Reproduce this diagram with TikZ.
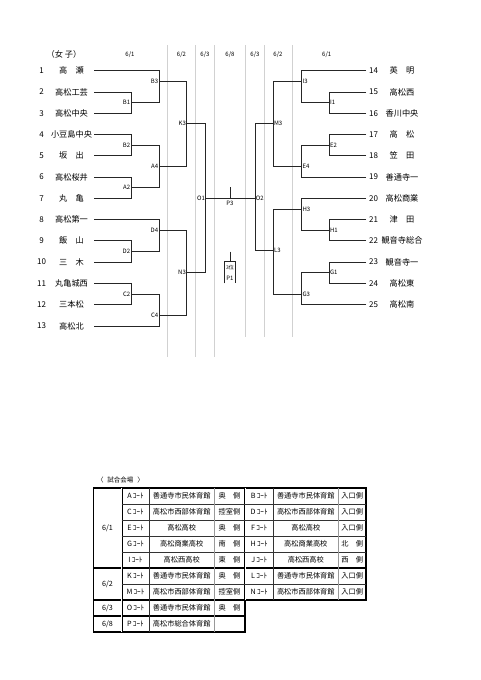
\documentclass[tikz,border=0pt]{standalone}
\usepackage{fontspec}
\usepackage{graphicx}
\newfontfamily\jp{Noto Sans CJK JP}
\begin{document}
\begin{tikzpicture}[x=1pt,y=-1pt,
  every node/.style={inner sep=0pt, font=\jp},
  team/.style={font=\jp\fontsize{8.2}{9}\selectfont},
  num/.style={font=\jp\fontsize{8}{9}\selectfont},
  mlabl/.style={font=\jp\fontsize{6}{6.5}\selectfont, inner sep=0.6pt, anchor=east},
  mlabr/.style={font=\jp\fontsize{6}{6.5}\selectfont, inner sep=0.6pt, anchor=west},
  hdr/.style={font=\jp\fontsize{6}{7}\selectfont},
  br/.style={line width=0.8pt, black!85},
  sep/.style={line width=0.9pt, black!18},
  tb/.style={line width=1.4pt, black},
  tdbl/.style={double, double distance=0.9pt, line width=0.6pt, black},
  tn/.style={line width=0.5pt, black!80},
  tg/.style={line width=0.5pt, black!40},
  cell/.style={font=\jp\fontsize{7.2}{8}\selectfont},
]
\useasboundingbox (0,0) rectangle (481,680);
\fill[white] (0,0) rectangle (481,680);

% column separators
\foreach \x/\yb in {167.5/357, 195.5/357, 214.8/357, 245.5/337, 264.5/337, 292/337}
  \draw[sep] (\x,45) -- (\x,\yb);

% headers
\node[team] (title) at (64,54) {（女 子）};
\node[hdr] (h1) at (130,55) {6/1};
\node[hdr] (h2) at (181.5,55) {6/2};
\node[hdr] (h3) at (205,55) {6/3};
\node[hdr] (h4) at (230,55) {6/8};
\node[hdr] (h5) at (255,55) {6/3};
\node[hdr] (h6) at (278,55) {6/2};
\node[hdr] (h7) at (326.7,55) {6/1};

% teams left
\foreach \i/\nm in {1/高　瀬,2/高松工芸,3/高松中央,4/小豆島中央,5/坂　出,6/高松桜井,7/丸　亀,8/高松第一,9/飯　山,10/三　木,11/丸亀城西,12/三本松,13/高松北}{
  \pgfmathsetmacro\yy{70.7+(\i-1)*21.27}
  \node[num] (n\i) at (41.5,\yy) {\i};
  \node[team] (t\i) at (71.5,\yy) {\nm};
  \coordinate (s\i) at (94,\yy);
}
% teams right
\foreach \i/\nm in {14/英　明,15/高松西,16/香川中央,17/高　松,18/笠　田,19/善通寺一,20/高松商業,21/津　田,22/観音寺総合,23/観音寺一,24/高松東,25/高松南}{
  \pgfmathsetmacro\yy{70.7+(\i-14)*21.27}
  \node[num] (n\i) at (373.5,\yy) {\i};
  \node[team] (t\i) at (402,\yy) {\nm};
  \coordinate (s\i) at (366,\yy);
}

% match points left
\coordinate (B1) at (131,102.6);
\coordinate (B3) at (159,81);
\coordinate (B2) at (131,145.1);
\coordinate (A2) at (131,187.7);
\coordinate (A4) at (159,166.4);
\coordinate (K3) at (186.7,123);
\coordinate (D2) at (131,251.5);
\coordinate (D4) at (159,230);
\coordinate (C2) at (131,294);
\coordinate (C4) at (159,315.3);
\coordinate (N3) at (186.7,272.7);
\coordinate (O1) at (205.7,198.3);
% match points right
\coordinate (I1) at (329.3,102.6);
\coordinate (I3) at (301.7,81);
\coordinate (E2) at (329.3,145.1);
\coordinate (E4) at (301.7,166.4);
\coordinate (M3) at (273.3,123);
\coordinate (H1) at (329.3,230.2);
\coordinate (H3) at (301.7,209);
\coordinate (G1) at (329.3,272.7);
\coordinate (G3) at (301.7,294);
\coordinate (L3) at (273.3,250.7);
\coordinate (O2) at (255,198.3);

% bracket lines left
\draw[br] (s1) -| (B3);
\draw[br] (s2) -| (B1);
\draw[br] (s3) -| (B1);
\draw[br] (B1) -| (B3);
\draw[br] (s4) -| (B2);
\draw[br] (s5) -| (B2);
\draw[br] (s6) -| (A2);
\draw[br] (s7) -| (A2);
\draw[br] (B2) -| (A4);
\draw[br] (A2) -| (A4);
\draw[br] (B3) -| (K3);
\draw[br] (A4) -| (K3);
\draw[br] (s8) -| (D4);
\draw[br] (s9) -| (D2);
\draw[br] (s10) -| (D2);
\draw[br] (D2) -| (D4);
\draw[br] (s11) -| (C2);
\draw[br] (s12) -| (C2);
\draw[br] (C2) -| (C4);
\draw[br] (s13) -| (C4);
\draw[br] (D4) -| (N3);
\draw[br] (C4) -| (N3);
\draw[br] (K3) -| (O1);
\draw[br] (N3) -| (O1);
% bracket lines right
\draw[br] (s14) -| (I3);
\draw[br] (s15) -| (I1);
\draw[br] (s16) -| (I1);
\draw[br] (I1) -| (I3);
\draw[br] (s17) -| (E2);
\draw[br] (s18) -| (E2);
\draw[br] (E2) -| (E4);
\draw[br] (s19) -| (E4);
\draw[br] (I3) -| (M3);
\draw[br] (E4) -| (M3);
\draw[br] (s20) -| (H3);
\draw[br] (s21) -| (H1);
\draw[br] (s22) -| (H1);
\draw[br] (H1) -| (H3);
\draw[br] (s23) -| (G1);
\draw[br] (s24) -| (G1);
\draw[br] (G1) -| (G3);
\draw[br] (s25) -| (G3);
\draw[br] (H3) -| (L3);
\draw[br] (G3) -| (L3);
\draw[br] (M3) -| (O2);
\draw[br] (L3) -| (O2);
% final
\draw[br] (O1) -- (O2);
\coordinate (P3t) at (230,187.3);
\draw[br] (P3t) -- (P3t |- O1);
\node[hdr] (P3) at (230,203.5) {P3};

% 3rd place
\coordinate (P1t) at (230,251.7);
\coordinate (P1a) at (224.3,261.7);
\coordinate (P1b) at (235.7,261.7);
\draw[br] (P1t) -- (P1t |- P1a);
\draw[br] ([yshift=-21.6pt]P1a) -- (P1a) -- (P1b) -- ([yshift=-21.6pt]P1b);
\node[font=\jp\fontsize{5}{6}\selectfont] (p3rd) at (230,267.2) {3位};
\node[hdr] (P1) at (230,278) {P1};

% match labels
\foreach \m in {B1,B3,B2,A2,A4,K3,D2,D4,C2,C4,N3,O1}
  \node[mlabl] (l\m) at (\m) {\m};
\foreach \m in {I1,I3,E2,E4,M3,H1,H3,G1,G3,L3,O2}
  \node[mlabr] (l\m) at (\m) {\m};

% ---------- venue table ----------
\node[font=\jp\fontsize{6.5}{7}\selectfont] (ttl) at (120.5,480) {〈\hspace{4pt}試合会場\hspace{4pt}〉};

\draw[tb] (93.3,488) rectangle (366,600);
\draw[tb] (93.3,600) -- (93.3,632) -- (245,632) -- (245,600);
\draw[tb] (93.3,568) -- (366,568);
\draw[tb] (93.3,616) -- (245,616);
\draw[tdbl] (121.7,488) -- (121.7,632);
\draw[tdbl] (245,488) -- (245,600);
\foreach \y in {504,520,536,552,584}
  \draw[tn] (121.7,\y) -- (366,\y);
\draw[tn] (149.3,488) -- (149.3,632);
\draw[tn] (273.3,488) -- (273.3,600);
\draw[tg] (214,488) -- (214,632);
\draw[tg] (338.3,488) -- (338.3,600);

\node[cell] (d1) at (107.5,528) {6/1};
\node[cell] (d2) at (107.5,584) {6/2};
\node[cell] (d3) at (107.5,608) {6/3};
\node[cell] (d4) at (107.5,624) {6/8};

\foreach \cl/\y/\vl/\sl in {A/496/善通寺市民体育館/奥　側, C/512/高松市西部体育館/控室側, E/528/高松高校/奥　側, G/544/高松商業高校/南　側, I/560/高松西高校/東　側, K/576/善通寺市民体育館/奥　側, M/592/高松市西部体育館/控室側, O/608/善通寺市民体育館/奥　側, P/624/高松市総合体育館/{}}{
  \node[cell] (c\cl) at (135.5,\y) {\cl\,ｺｰﾄ};
  \node[cell] (v\cl) at (181.7,\y) {\vl};
  \node[cell] (w\cl) at (229.5,\y) {\sl};
}
\foreach \cl/\y/\vl/\sl in {B/496/善通寺市民体育館/入口側, D/512/高松市西部体育館/入口側, F/528/高松高校/入口側, H/544/高松商業高校/北　側, J/560/高松西高校/西　側, L/576/善通寺市民体育館/入口側, N/592/高松市西部体育館/入口側}{
  \node[cell] (c\cl) at (259.2,\y) {\cl\,ｺｰﾄ};
  \node[cell] (v\cl) at (305.8,\y) {\vl};
  \node[cell] (w\cl) at (352.2,\y) {\sl};
}
\end{tikzpicture}
\end{document}
